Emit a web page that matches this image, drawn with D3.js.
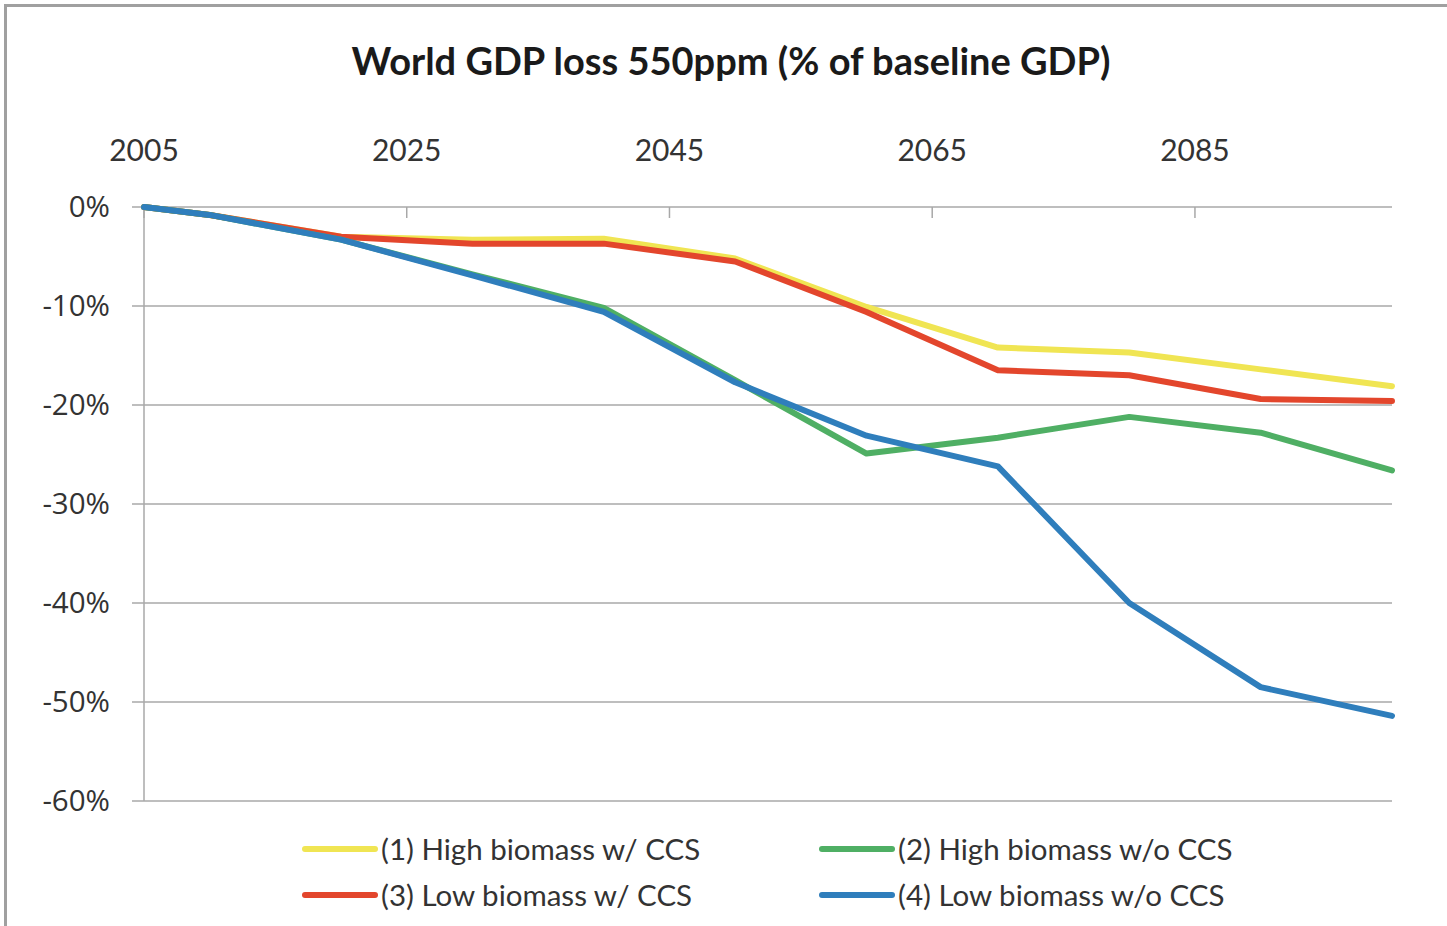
<!DOCTYPE html>
<html>
<head>
<meta charset="utf-8">
<script src="https://d3js.org/d3.v7.min.js"></script>
<style>
  body { margin: 0; background: #fff; }
  svg { display: block; }
</style>
</head>
<body>
<div id="chart"></div>
<script>
// World GDP loss 550ppm - four biomass / CCS scenarios

var years = [2005, 2010, 2020, 2030, 2040, 2050, 2060, 2070, 2080, 2090, 2100];
var xTicks = [2005, 2025, 2045, 2065, 2085];
var yTicks = [0, -10, -20, -30, -40, -50, -60];

// values in % of baseline GDP
var highBiomassCCS   = [0, -0.8, -3.0, -3.3, -3.2, -5.2, -10.1, -14.2, -14.7, -16.4, -18.1];
var highBiomassNoCCS = [0, -0.8, -3.3, -6.8, -10.2, -17.5, -24.9, -23.3, -21.2, -22.8, -26.6];
var lowBiomassCCS    = [0, -0.8, -3.0, -3.7, -3.7, -5.5, -10.6, -16.5, -17.0, -19.4, -19.6];
var lowBiomassNoCCS  = [0, -0.8, -3.3, -6.9, -10.6, -17.7, -23.1, -26.2, -40.0, -48.5, -51.4];

var seriesNames = [
    "(1) High biomass w/ CCS",
    "(2) High biomass w/o CCS",
    "(3) Low biomass w/ CCS",
    "(4) Low biomass w/o CCS"
];
var seriesColors = ["#f0e553", "#4faf64", "#e3462c", "#2f7ebc"];
var seriesValues = [highBiomassCCS, highBiomassNoCCS, lowBiomassCCS, lowBiomassNoCCS];

var width = 1447, height = 926;

var svg = d3.select("#chart").append("svg")
    .attr("width", width)
    .attr("height", height);

// outer frame (left and top edges only visible)
svg.append("line").attr("x1", 5.5).attr("x2", 5.5).attr("y1", 5).attr("y2", height)
    .attr("stroke", "#a0a0a0").attr("stroke-width", 3);
svg.append("line").attr("x1", 4).attr("x2", width).attr("y1", 5.5).attr("y2", 5.5)
    .attr("stroke", "#a0a0a0").attr("stroke-width", 3);

// title
svg.append("text")
    .attr("x", 731)
    .attr("y", 75)
    .attr("text-anchor", "middle")
    .style("font-family", "Lato, 'Open Sans', sans-serif")
    .style("font-weight", "bold")
    .style("font-size", "38px")
    .style("fill", "#1a1a1a")
    .text("World GDP loss 550ppm (% of baseline GDP)");

// scales
var x = d3.scaleLinear().domain([2005, 2100]).range([144, 1392]);
var y = d3.scaleLinear().domain([0, -60]).range([207, 801]);

// gridlines
svg.append("g").selectAll("line")
    .data(yTicks)
    .enter().append("line")
        .attr("x1", 132)
        .attr("x2", x(2100))
        .attr("y1", function(d) { return y(d); })
        .attr("y2", function(d) { return y(d); })
        .attr("stroke", "#a8a8a8")
        .attr("stroke-width", 1.5);

// vertical axis line
svg.append("line")
    .attr("x1", x(2005)).attr("x2", x(2005))
    .attr("y1", y(0)).attr("y2", y(-60))
    .attr("stroke", "#a8a8a8").attr("stroke-width", 1.5);

// y labels
svg.append("g").selectAll("text")
    .data(yTicks)
    .enter().append("text")
        .attr("x", 110)
        .attr("y", function(d) { return y(d); })
        .attr("dy", "0.35em")
        .attr("text-anchor", "end")
        .style("font-family", "'Open Sans', sans-serif")
        .style("font-size", "29.5px")
        .style("fill", "#333")
        .text(function(d) { return d + "%"; });

// top x axis: ticks pointing down from the 0% line
svg.append("g").selectAll("line")
    .data(xTicks)
    .enter().append("line")
        .attr("x1", function(d) { return x(d); })
        .attr("x2", function(d) { return x(d); })
        .attr("y1", y(0))
        .attr("y2", y(0) + 11)
        .attr("stroke", "#a8a8a8")
        .attr("stroke-width", 1.5);

svg.append("g").selectAll("text")
    .data(xTicks)
    .enter().append("text")
        .attr("x", function(d) { return x(d); })
        .attr("y", 161)
        .attr("text-anchor", "middle")
        .style("font-family", "Lato, sans-serif")
        .style("font-size", "30px")
        .style("fill", "#333")
        .text(function(d) { return d; });

// lines
var line = d3.line()
    .x(function(d, i) { return x(years[i]); })
    .y(function(d) { return y(d); });

// draw order: yellow, red, green, blue on top
var drawOrder = [0, 2, 1, 3];
svg.append("g").selectAll("path")
    .data(drawOrder)
    .enter().append("path")
        .attr("d", function(k) { return line(seriesValues[k]); })
        .attr("fill", "none")
        .attr("stroke", function(k) { return seriesColors[k]; })
        .attr("stroke-width", 6)
        .attr("stroke-linejoin", "round")
        .attr("stroke-linecap", "round");

// legend
var legendPos = [[303, 849], [820, 849], [303, 895], [820, 895]];
var legend = svg.append("g").selectAll("g")
    .data(seriesNames)
    .enter().append("g")
        .attr("transform", function(d, i) {
            return "translate(" + legendPos[i][0] + "," + legendPos[i][1] + ")";
        });

legend.append("line")
    .attr("x1", 2).attr("x2", 72)
    .attr("y1", 0).attr("y2", 0)
    .attr("stroke", function(d, i) { return seriesColors[i]; })
    .attr("stroke-width", 6)
    .attr("stroke-linecap", "round");

legend.append("text")
    .attr("x", 78)
    .attr("y", 0)
    .attr("dy", "0.36em")
    .style("font-family", "Lato, sans-serif")
    .style("font-size", "29.5px")
    .style("fill", "#333")
    .text(function(d) { return d; });
</script>
</body>
</html>
